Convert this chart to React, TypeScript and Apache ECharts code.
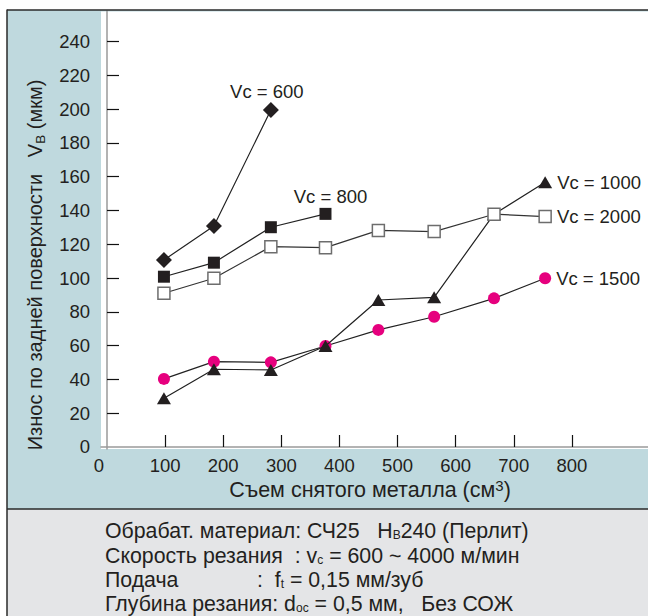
import React, { useEffect, useRef } from "react";
import * as echarts from "echarts";

// Съем снятого металла (см3) — x positions of measurement points
const volumeRemoved = [98, 184, 282, 376, 467, 563, 666, 754];
// Износ по задней поверхности VB (мкм)
const wearVc600 = [110.7, 130.8, 199.5];
const wearVc800 = [100.8, 109.1, 130.1, 138];
const wearVc1000 = [28.8, 46, 45.6, 59.8, 87, 88.6, 137.8, 156.7];
const wearVc1500 = [40.3, 50.5, 50.1, 59.8, 69.3, 77.1, 88, 99.9];
const wearVc2000 = [91, 99.9, 118.6, 118, 128.2, 127.5, 137.8, 136.4];

const yLabelValues = [0, 20, 40, 60, 80, 100, 120, 140, 160, 180, 200, 220, 240];
const yTickValues = [20, 40, 60, 80, 100, 120, 140, 160, 180, 200, 220, 240];
const xLabelValues = [100, 200, 300, 400, 500, 600, 700, 800];
const seriesNames = ["Vc = 600", "Vc = 800", "Vc = 1000", "Vc = 1500", "Vc = 2000"];

const FONT = "'Liberation Sans', Arial, sans-serif";
const TXT = "#231f20";
const TICK_FS = 18.5;
const NAME_FS = 21.5;
const INFO_FS = 21.3;

function pairs(vals: number[]) {
  return vals.map((v, i) => [volumeRemoved[i], v]);
}

function withEndLabel(vals: number[], name: string, position: any, offset: number[] = [0, 0]) {
  const d: any[] = pairs(vals);
  const last = d.length - 1;
  d[last] = {
    value: d[last],
    label: {
      show: true,
      formatter: name,
      position,
      offset,
      distance: 5,
      fontSize: TICK_FS,
      fontFamily: FONT,
      color: TXT,
    },
  };
  return d;
}

function infoRich(fs: number) {
  return {
    w: { fontSize: fs, fontFamily: FONT, fill: TXT, lineHeight: 20, width: 152 },
    a: { fontSize: fs, fontFamily: FONT, fill: TXT, lineHeight: 20 },
    s: { fontSize: 12, fontFamily: FONT, fill: TXT, lineHeight: 20, verticalAlign: "bottom" },
  };
}

export default function App() {
  const ref = useRef<HTMLDivElement>(null);
  useEffect(() => {
    if (!ref.current) return;
    const chart = echarts.init(ref.current, undefined, { renderer: "svg" });
    const lineCommon = {
      type: "line",
      xAxisIndex: 0,
      yAxisIndex: 0,
      lineStyle: { color: "#222", width: 1.2 },
      emphasis: { disabled: true },
    };
    chart.setOption({
      animation: false,
      backgroundColor: "#ffffff",
      grid: { left: 101, right: 0, top: 11, bottom: 167, containLabel: false, outerBoundsMode: "none" },
      xAxis: {
        type: "value",
        min: -10.3,
        max: 931,
        z: 5,
        axisLine: { show: true, lineStyle: { color: "#9a9a9a", width: 1.5 } },
        axisTick: {
          show: true,
          inside: true,
          length: 12,
          customValues: xLabelValues,
          lineStyle: { color: "#111", width: 1.2 },
        },
        axisLabel: {
          customValues: xLabelValues,
          margin: 7,
          fontSize: TICK_FS,
          fontFamily: FONT,
          color: TXT,
        },
        splitLine: { show: false },
      },
      yAxis: {
        type: "value",
        min: -1.2,
        max: 258.1,
        z: 5,
        axisLine: { show: true, lineStyle: { color: "#9a9a9a", width: 1.5 } },
        axisTick: {
          show: true,
          inside: true,
          length: 12,
          customValues: yTickValues,
          lineStyle: { color: "#111", width: 1.2 },
        },
        axisLabel: {
          customValues: yLabelValues,
          margin: 11,
          fontSize: TICK_FS,
          fontFamily: FONT,
          color: TXT,
        },
        splitLine: { show: false },
      },
      graphic: [
        { type: "rect", z: -10, shape: { x: 7, y: 10, width: 641, height: 499 }, style: { fill: "#bfd9de" }, silent: true },
        { type: "rect", z: -9, shape: { x: 101, y: 11.5, width: 547, height: 437.5 }, style: { fill: "#ffffff" }, silent: true },
        { type: "rect", z: -10, shape: { x: 7, y: 509, width: 641, height: 107 }, style: { fill: "#e4e5e7" }, silent: true },
        { type: "line", z: 30, shape: { x1: 7, y1: 10, x2: 648, y2: 10 }, style: { stroke: "#2a2a2a", lineWidth: 1.5 }, silent: true },
        { type: "line", z: 30, shape: { x1: 7, y1: 9.5, x2: 7, y2: 616 }, style: { stroke: "#2a2a2a", lineWidth: 1.5 }, silent: true },
        { type: "line", z: 30, shape: { x1: 7, y1: 509, x2: 648, y2: 509 }, style: { stroke: "#2a2a2a", lineWidth: 1.5 }, silent: true },
        {
          type: "text", z: 30, x: 99, y: 465,
          style: { text: "0", fontSize: TICK_FS, fontFamily: FONT, fill: TXT, align: "center", verticalAlign: "middle" },
        },
        {
          type: "text", z: 30, x: 35, y: 265, rotation: Math.PI / 2,
          style: {
            text: "{a|Износ по задней поверхности   V}{s|B}{a| (мкм)}",
            align: "center",
            verticalAlign: "middle",
            fill: TXT,
            rich: {
              a: { fontSize: 20, fontFamily: FONT, fill: TXT, lineHeight: 24 },
              s: { fontSize: 13.5, fontFamily: FONT, fill: TXT, lineHeight: 24, verticalAlign: "bottom" },
            },
          },
        },
        {
          type: "text", z: 30, x: 370, y: 490,
          style: {
            text: "{a|Съем снятого металла (см}{p|3}{a|)}",
            align: "center",
            verticalAlign: "middle",
            fill: TXT,
            rich: {
              a: { fontSize: NAME_FS, fontFamily: FONT, fill: TXT, lineHeight: 24 },
              p: { fontSize: 15, fontFamily: FONT, fill: TXT, lineHeight: 24, verticalAlign: "top" },
            },
          },
        },
        {
          type: "text", z: 30, x: 105, y: 531,
          style: { text: "{a|Обрабат. материал: СЧ25   H}{s|B}{a|240 (Перлит)}", verticalAlign: "middle", fill: TXT, rich: infoRich(INFO_FS) },
        },
        {
          type: "text", z: 30, x: 105, y: 555.5,
          style: { text: "{a|Скорость резания  : v}{s|c}{a| = 600 ~ 4000 м/мин}", verticalAlign: "middle", fill: TXT, rich: infoRich(INFO_FS) },
        },
        {
          type: "text", z: 30, x: 105, y: 580,
          style: { text: "{w|Подача}{a|:  f}{s|t}{a| = 0,15 мм/зуб}", verticalAlign: "middle", fill: TXT, rich: infoRich(INFO_FS) },
        },
        {
          type: "text", z: 30, x: 105, y: 604,
          style: { text: "{a|Глубина резания: d}{s|oc}{a| = 0,5 мм,   Без СОЖ}", verticalAlign: "middle", fill: TXT, rich: infoRich(INFO_FS) },
        },
      ],
      series: [
        {
          ...lineCommon,
          name: seriesNames[3],
          z: 10,
          symbol: "circle",
          symbolSize: 12,
          itemStyle: { color: "#e6007e", borderWidth: 0 },
          data: withEndLabel(wearVc1500, seriesNames[3], "right"),
        },
        {
          ...lineCommon,
          name: seriesNames[2],
          z: 11,
          symbol: "triangle",
          symbolSize: [14, 12],
          itemStyle: { color: "#231f20", borderWidth: 0 },
          data: withEndLabel(wearVc1000, seriesNames[2], "right"),
        },
        {
          ...lineCommon,
          name: seriesNames[4],
          z: 12,
          symbol: "rect",
          symbolSize: 12,
          lineStyle: { color: "#333", width: 1.2 },
          itemStyle: { color: "#ffffff", borderColor: "#6d6d6d", borderWidth: 1.5 },
          data: withEndLabel(wearVc2000, seriesNames[4], "right"),
        },
        {
          ...lineCommon,
          name: seriesNames[1],
          z: 13,
          symbol: "rect",
          symbolSize: 12,
          itemStyle: { color: "#231f20", borderWidth: 0 },
          data: withEndLabel(wearVc800, seriesNames[1], "top", [5, 3]),
        },
        {
          ...lineCommon,
          name: seriesNames[0],
          z: 14,
          symbol: "diamond",
          symbolSize: 16,
          itemStyle: { color: "#231f20", borderWidth: 0 },
          data: withEndLabel(wearVc600, seriesNames[0], "top", [-4, 4]),
        },
      ],
    });
    return () => chart.dispose();
  }, []);
  return (
    <div
      ref={ref}
      style={{ position: "fixed", left: 0, top: 0, width: 648, height: 616 }}
    />
  );
}
